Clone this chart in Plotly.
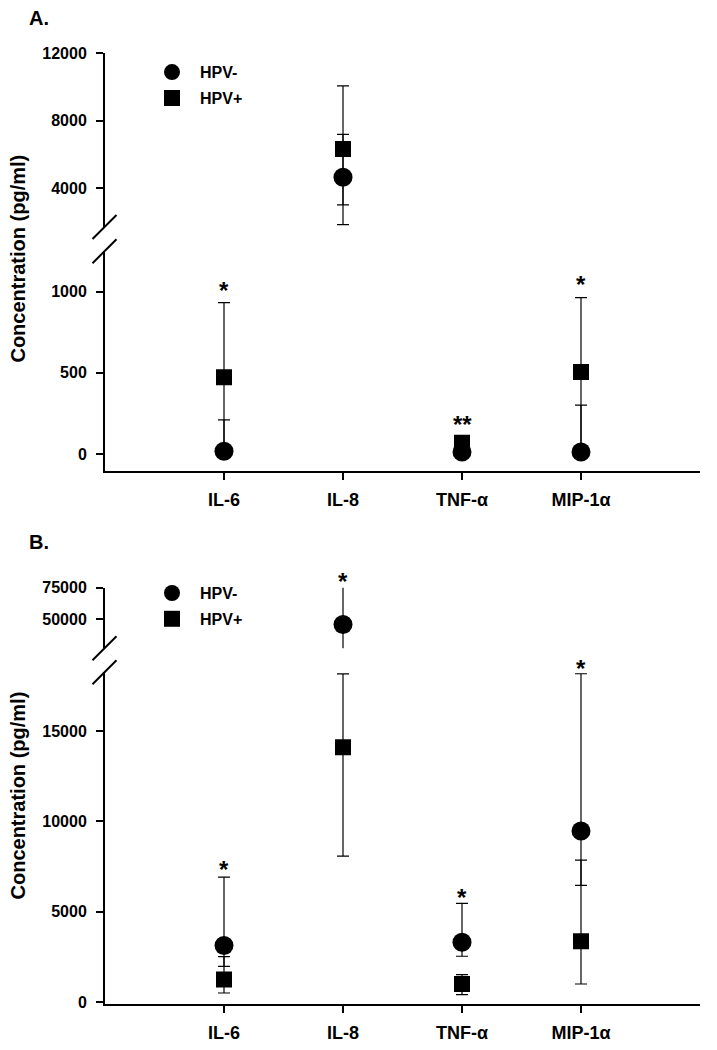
import plotly.graph_objects as go

# ---------------- data ----------------
categories = ["IL-6", "IL-8", "TNF-α", "MIP-1α"]
cat_pos = [1, 2, 3, 4]

# Panel A (pg/ml)
a_neg = [16, 4650, 12, 12]
a_neg_hi = [210, 7200, 12, 300]
a_neg_lo = [0, 1840, 12, 0]
a_pos = [473, 6330, 68, 504]
a_pos_hi = [932, 10080, 68, 963]
a_pos_lo = [20, 3010, 68, 30]
a_sig = ["*", "", "**", "*"]
a_sig_y = [1035, None, 212, 1076]

# Panel B (pg/ml)
b_neg = [3140, 45770, 3320, 9470]
b_neg_hi = [6920, 80000, 5465, 18160]
b_neg_lo = [1990, 24000, 2547, 6460]
b_pos = [1257, 14100, 1013, 3377]
b_pos_hi = [2530, 18150, 1534, 7860]
b_pos_lo = [515, 8084, 426, 1013]
b_sig = ["*", "*", "*", "*"]
b_sig_y = [7620, 83800, 6090, 18700]

# axis ticks / ranges
a_up_ticks = [4000, 8000, 12000]
a_lo_ticks = [0, 500, 1000]
b_up_ticks = [50000, 75000]
b_lo_ticks = [0, 5000, 10000, 15000]
a_up_range = [1700, 12000]
a_lo_range = [-103, 1249]
b_up_range = [26840, 75000]
b_lo_range = [-83, 18241]

# ---------------- layout helpers ----------------
W, H = 717, 1050
# vertical calibration of the rendered page (photo offset / scale)
V_OFF, V_SCALE = 8.9, 0.984
FONT = "Liberation Sans, Arial, sans-serif"

A_UP_DOM = (54.3, 227.5)
A_LO_DOM = (251.7, 470.7)
B_UP_DOM = (587.7, 648)
B_LO_DOM = (672, 1003)


def fx(p):
    return p / W


def fy(p):
    return 1 - ((p - V_OFF) / V_SCALE) / H


fig = go.Figure()


def add_series(xa, ya, vals, hi, lo, symbol, size, name, show, legend, group):
    fig.add_trace(go.Scatter(
        x=cat_pos, y=vals, mode="markers", name=name,
        xaxis=xa, yaxis=ya, showlegend=show, legend=legend, legendgroup=group,
        marker=dict(symbol=symbol, size=size, color="black", line=dict(width=0)),
        error_y=dict(type="data", symmetric=False,
                     array=[h - v for h, v in zip(hi, vals)],
                     arrayminus=[v - l for l, v in zip(lo, vals)],
                     color="black", thickness=1.2, width=6),
        cliponaxis=True, hoverinfo="skip",
    ))


for ya, show in (("y", False), ("y2", True)):
    add_series("x", ya, a_neg, a_neg_hi, a_neg_lo, "circle", 19, "HPV-", show, "legend", "an")
    add_series("x", ya, a_pos, a_pos_hi, a_pos_lo, "square", 16, "HPV+", show, "legend", "ap")
for ya, show in (("y3", False), ("y4", True)):
    add_series("x2", ya, b_neg, b_neg_hi, b_neg_lo, "circle", 19, "HPV-", show, "legend2", "bn")
    add_series("x2", ya, b_pos, b_pos_hi, b_pos_lo, "square", 16, "HPV+", show, "legend2", "bp")

tickfont = dict(family=FONT, size=16, color="black", weight="bold")


def yax(dom, rng, ticks, anchor):
    return dict(domain=[fy(dom[1]), fy(dom[0])], range=rng, anchor=anchor,
                tickvals=ticks, ticktext=[str(t) for t in ticks],
                ticks="outside", ticklen=7, tickwidth=1.5, tickcolor="black",
                showline=True, linewidth=2, linecolor="black",
                showgrid=False, zeroline=False, tickfont=tickfont,
                ticklabelstandoff=6, fixedrange=True)


def xax(anchor):
    return dict(domain=[fx(105), fx(700)], range=[0, 5], anchor=anchor,
                tickvals=cat_pos, ticktext=categories,
                ticks="outside", ticklen=7, tickwidth=1.5, tickcolor="black",
                showline=True, linewidth=2, linecolor="black",
                showgrid=False, zeroline=False,
                tickfont=dict(family=FONT, size=18, color="black", weight="bold"),
                ticklabelstandoff=5, fixedrange=True)


legend_common = dict(xanchor="left", yanchor="top", bgcolor="rgba(0,0,0,0)",
                     font=dict(family=FONT, size=16, color="black", weight="bold"),
                     itemwidth=46, traceorder="grouped", tracegroupgap=2,
                     borderwidth=0)

fig.update_layout(
    width=W, height=H, margin=dict(l=0, r=0, t=0, b=0),
    paper_bgcolor="white", plot_bgcolor="white",
    xaxis=xax("y2"), xaxis2=xax("y4"),
    yaxis=yax(A_UP_DOM, a_up_range, a_up_ticks, "x"),
    yaxis2=yax(A_LO_DOM, a_lo_range, a_lo_ticks, "x"),
    yaxis3=yax(B_UP_DOM, b_up_range, b_up_ticks, "x2"),
    yaxis4=yax(B_LO_DOM, b_lo_range, b_lo_ticks, "x2"),
    legend=dict(x=fx(144), y=fy(56), **legend_common),
    legend2=dict(x=fx(144), y=fy(576), **legend_common),
    showlegend=True,
)

shapes = []
for c in (A_UP_DOM[1], A_LO_DOM[0], B_UP_DOM[1], B_LO_DOM[0]):
    shapes.append(dict(type="line", xref="paper", yref="paper",
                       x0=fx(92.5), y0=fy(c + 12), x1=fx(116.5), y1=fy(c - 12),
                       line=dict(color="black", width=2)))
fig.update_layout(shapes=shapes)


def star(xref, yref, xv, yv, rng, dom, text):
    upp = (rng[1] - rng[0]) / (dom[1] - dom[0])
    shift = 0
    if yv > rng[1]:
        shift = (yv - rng[1]) / upp
        yv = rng[1]
    return dict(x=xv, y=yv, xref=xref, yref=yref, text=text, showarrow=False,
                yshift=shift - 5,
                font=dict(family=FONT, size=24, color="black", weight="bold"))


ann = []
for i, (s, yv) in enumerate(zip(a_sig, a_sig_y)):
    if s:
        ann.append(star("x", "y2", cat_pos[i], yv, a_lo_range, A_LO_DOM, s))
for i, (s, yv) in enumerate(zip(b_sig, b_sig_y)):
    if s:
        if yv <= b_lo_range[1] + 2000:
            ann.append(star("x2", "y4", cat_pos[i], yv, b_lo_range, B_LO_DOM, s))
        else:
            ann.append(star("x2", "y3", cat_pos[i], yv, b_up_range, B_UP_DOM, s))

for lbl, yc in (("A.", 18.5), ("B.", 542)):
    ann.append(dict(x=fx(27), y=fy(yc), xref="paper", yref="paper", text=lbl,
                    showarrow=False, xanchor="left", yanchor="middle",
                    font=dict(family=FONT, size=20, color="black", weight="bold")))
for yc in (259, 795):
    ann.append(dict(x=fx(18), y=fy(yc), xref="paper", yref="paper",
                    text="Concentration (pg/ml)", textangle=-90, showarrow=False,
                    xanchor="center", yanchor="middle",
                    font=dict(family=FONT, size=20, color="black", weight="bold")))
fig.update_layout(annotations=ann)

fig.write_html("out.html", config={"displayModeBar": False},
               post_script="document.documentElement.style.margin='0';document.body.style.margin='0';document.body.style.padding='0';document.body.style.overflow='hidden';")
